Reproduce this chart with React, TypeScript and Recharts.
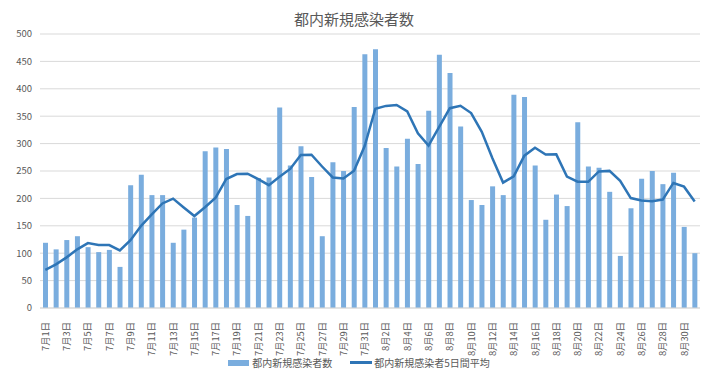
import { ComposedChart, Bar, Line, XAxis, YAxis, CartesianGrid, Legend } from 'recharts';

const DAYS: string[] = [
  ...Array.from({ length: 31 }, (_, i) => `7月${i + 1}日`),
  ...Array.from({ length: 31 }, (_, i) => `8月${i + 1}日`),
];

const NEW_CASES: number[] = [
  119, 107, 124, 131, 111, 102, 106, 75, 224, 243, 206, 206, 119, 143, 165, 286,
  293, 290, 188, 168, 237, 238, 366, 260, 295, 239, 131, 266, 250, 367, 463,
  472, 292, 258, 309, 263, 360, 462, 429, 331, 197, 188, 222, 206, 389, 385,
  260, 161, 207, 186, 339, 258, 256, 212, 95, 182, 236, 250, 226, 247, 148, 100,
];

const AVG_5DAY: number[] = [
  69.6, 79.6, 92.4, 107.0, 118.4, 115.0, 114.8, 105.0, 123.6, 150.0, 170.8, 190.8,
  199.6, 183.4, 167.8, 183.8, 201.2, 235.4, 244.4, 245.0, 235.2, 224.2, 239.4,
  253.8, 279.2, 279.6, 258.2, 238.2, 236.2, 250.6, 295.4,
  363.6, 368.8, 370.4, 358.8, 318.8, 296.4, 330.4, 364.6, 369.0, 355.8, 321.4,
  273.4, 228.8, 240.4, 278.0, 292.4, 280.2, 280.4, 239.8, 230.6, 230.2, 249.2,
  250.2, 232.0, 200.6, 196.2, 195.0, 197.8, 228.2, 221.4, 194.2,
];

const Y_TICKS = [0, 50, 100, 150, 200, 250, 300, 350, 400, 450, 500];

const BAR_NAME = '都内新規感染者数';
const LINE_NAME = '都内新規感染者5日間平均';

const FONT = '"Noto Sans CJK JP", "Noto Sans", sans-serif';
const BAR_COLOR = '#7AADDE';
const LINE_COLOR = '#2E75B6';
const TEXT_COLOR = '#595959';

const data = DAYS.map((d, i) => ({ day: d, cases: NEW_CASES[i], avg: AVG_5DAY[i] }));

function DayTick(props: any) {
  const { x, y, payload } = props;
  return (
    <text
      x={0}
      y={0}
      transform={`translate(${x + 3.5},${y + 6}) rotate(-90)`}
      textAnchor="end"
      fontSize={9.3}
      fill={TEXT_COLOR}
      fontFamily={FONT}
    >
      {payload.value}
    </text>
  );
}

function ChartLegend() {
  return (
    <div
      style={{
        display: 'flex',
        justifyContent: 'center',
        alignItems: 'center',
        fontFamily: FONT,
        fontSize: 10,
        color: TEXT_COLOR,
        paddingLeft: 18,
      }}
    >
      <span style={{ display: 'inline-block', width: 21, height: 6, background: BAR_COLOR, marginRight: 3 }} />
      <span style={{ marginRight: 18 }}>{BAR_NAME}</span>
      <span style={{ display: 'inline-block', width: 22, height: 3, background: LINE_COLOR, marginRight: 2 }} />
      <span>{LINE_NAME}</span>
    </div>
  );
}

export default function App() {
  return (
    <div style={{ position: 'absolute', left: 0, top: 0, width: 722, height: 379, background: '#fff' }}>
      <div
        style={{
          position: 'absolute',
          top: 8,
          left: 0,
          width: 708,
          textAlign: 'center',
          fontFamily: FONT,
          fontSize: 15,
          color: TEXT_COLOR,
        }}
      >
        都内新規感染者数
      </div>
      <ComposedChart
        width={722}
        height={379}
        data={data}
        margin={{ top: 34, right: 22, left: 0, bottom: 4 }}
        barCategoryGap={0}
      >
        <CartesianGrid vertical={false} stroke="#D9D9D9" />
        <XAxis
          dataKey="day"
          interval={1}
          tick={<DayTick />}
          tickLine={false}
          axisLine={{ stroke: '#D9D9D9' }}
          height={47}
        />
        <YAxis
          domain={[0, 500]}
          ticks={Y_TICKS}
          width={40}
          tickLine={false}
          axisLine={false}
          tick={{ fontSize: 9.5, fill: TEXT_COLOR, fontFamily: FONT }}
        />
        <Legend verticalAlign="bottom" height={20} content={<ChartLegend />} />
        <Bar dataKey="cases" name={BAR_NAME} fill={BAR_COLOR} barSize={5} isAnimationActive={false} />
        <Line
          dataKey="avg"
          name={LINE_NAME}
          type="linear"
          stroke={LINE_COLOR}
          strokeWidth={2.5}
          dot={false}
          isAnimationActive={false}
        />
      </ComposedChart>
    </div>
  );
}
